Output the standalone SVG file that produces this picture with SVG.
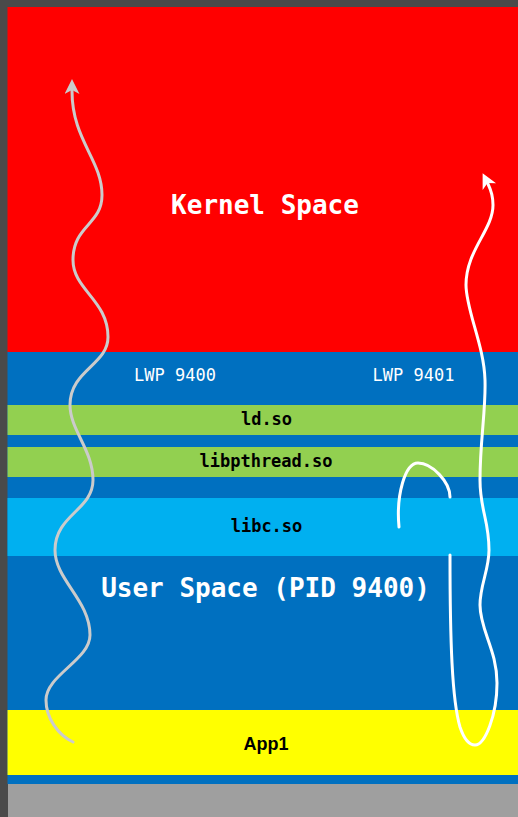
<svg xmlns="http://www.w3.org/2000/svg" width="518" height="817" viewBox="0 0 518 817">
<style>
.mono{font-family:"DejaVu Sans Mono","Liberation Mono",monospace;text-anchor:middle}
.big{font-size:26px;font-weight:bold;fill:#ffffff}
.lwp{font-size:17px;fill:#ffffff}
.lib{font-size:17px;font-weight:bold;fill:#000000}
.app{font-family:"Liberation Sans",Arial,sans-serif;font-size:18px;font-weight:bold;fill:#000000;text-anchor:middle}
.gray{fill:none;stroke:#cbcbcb;stroke-width:3;stroke-linecap:round}
.white{fill:none;stroke:#ffffff;stroke-width:3;stroke-linecap:round}
</style>
<defs>
<marker id="ag" markerUnits="userSpaceOnUse" markerWidth="16" markerHeight="16" refX="3" refY="7.5" orient="auto">
<path d="M0,0 L15,7.5 L0,15 L4,7.5 z" fill="#cbcbcb"/>
</marker>
<marker id="aw" markerUnits="userSpaceOnUse" markerWidth="16" markerHeight="16" refX="3" refY="7.5" orient="auto">
<path d="M0,0 L15,7.5 L0,15 L4,7.5 z" fill="#ffffff"/>
</marker>
</defs>
<rect x="0" y="0" width="518" height="817" fill="#4a4a4a"/>
<rect x="8" y="784" width="510" height="33" fill="#9f9f9f"/>
<g id="kernel-space">
<rect x="7.5" y="7" width="510.5" height="345" fill="#ff0000"/>
<text class="mono big" x="265" y="214">Kernel Space</text>
</g>
<g id="user-space">
<rect x="7.5" y="352" width="510.5" height="432" fill="#0070c0"/>
<text class="mono big" x="265.5" y="597">User Space (PID 9400)</text>
</g>
<g id="lwp-9400"><text class="mono lwp" x="175" y="381">LWP 9400</text></g>
<g id="lwp-9401"><text class="mono lwp" x="413.5" y="381">LWP 9401</text></g>
<g id="ld-so">
<rect x="7.5" y="405" width="510.5" height="30" fill="#92d050"/>
<text class="mono lib" x="266.5" y="425">ld.so</text>
</g>
<g id="libpthread-so">
<rect x="7.5" y="447" width="510.5" height="30" fill="#92d050"/>
<text class="mono lib" x="266" y="467">libpthread.so</text>
</g>
<g id="libc-so">
<rect x="7.5" y="498" width="510.5" height="58" fill="#00b0f0"/>
<text class="mono lib" x="266.5" y="532">libc.so</text>
</g>
<g id="app1">
<rect x="7.5" y="710" width="510.5" height="65" fill="#ffff00"/>
<text class="app" x="266" y="750">App1</text>
</g>
<g id="connectors">
<path class="gray" marker-end="url(#ag)" d="M73,742 C58,735 46,718 46,700 C46,675 90,660 90,635 C90,600 55,580 55,550 C55,515 93,510 93,480 C93,450 70,430 70,405 C70,370 108,365 108,337 C108,300 73,290 73,260 C73,225 102,225 102,195 C102,160 72,140 72,91"/>
<path class="white" d="M399,527 C396,495 405,463 418,463 C432,463 450,482 450,497"/>
<path class="white" marker-end="url(#aw)" d="M450,555 C450,640 452,700 460,727 C465,742 470,745 475,745 C485,745 497,715 497,683 C497,650 480,630 480,605 C480,585 489,570 489,550 C489,520 480,510 480,480 C480,440 486,410 485,380 C484,345 466,310 466,285 C466,250 493,230 493,205 C493,197 491,190 488,184"/>
</g>
</svg>
